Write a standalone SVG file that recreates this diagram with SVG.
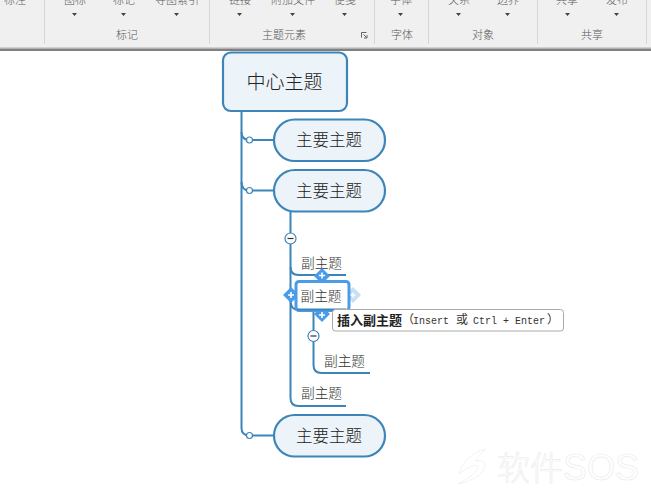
<svg xmlns="http://www.w3.org/2000/svg" width="651" height="493" viewBox="0 0 651 493">
<defs>
<style>
text{font-family:"Noto Sans CJK SC","Liberation Sans",sans-serif;text-anchor:middle;font-weight:300}
.rib{font-size:11px;fill:#5a5a5a}
.sep{stroke:#d6d6d6;stroke-width:1}
.ar{fill:#444}
.top{fill:#ecf3f9;stroke:#3d85b8;stroke-width:2.2}
.main{font-size:16.500px;fill:#222}
.sub{font-size:13.700px;fill:#333}
.ln{fill:none;stroke:#3d85b8;stroke-width:2}
.cir{fill:#fff;stroke:#3d85b8;stroke-width:1.200}
.dia{fill:#4a9be8}
.plus{stroke:#fff;stroke-width:1.600}
.wm{fill:#fff;stroke:#ededed;stroke-width:.7}
</style>
</defs>
<rect width="651" height="493" fill="#fff"/>
<g id="ribbon">
<rect width="651" height="47" fill="#f0f0f0"/>
<rect y="47" width="651" height="1.500" fill="#d0d0d0"/>
<rect y="48.500" width="651" height="2.500" fill="#808080"/>
<g class="sep"><path d="M44.500 0V44M209.500 0V44M374.500 0V44M428.500 0V44M537.500 0V44M646.500 0V44"/></g>
<g class="rib">
<text x="15" y="4">标注</text><text x="75" y="4">图标</text><text x="124" y="4">标记</text><text x="177" y="4">导图索引</text>
<text x="240" y="4">链接</text><text x="293" y="4">附加文件</text><text x="345" y="4">便笺</text><text x="401" y="4">字体</text>
<text x="459" y="4">关系</text><text x="508" y="4">边界</text><text x="567" y="4">共享</text><text x="617" y="4">发布</text>
<text x="127" y="39">标记</text><text x="284" y="39">主题元素</text><text x="402" y="39">字体</text><text x="483" y="39">对象</text><text x="592" y="39">共享</text>
</g>
<g class="ar">
<path d="M72 13h5l-2.500 3zM121 13h5l-2.500 3zM174 13h5l-2.500 3zM237 13h5l-2.500 3zM290 13h5l-2.500 3zM342 13h5l-2.500 3zM398 13h5l-2.500 3zM456 13h5l-2.500 3zM505 13h5l-2.500 3zM565 13h5l-2.500 3zM614 13h5l-2.500 3z"/>
</g>
<path d="M361.500 32.500h5M361.500 32.500v5M363.500 34.500l3 3M367 35v3h-3" fill="none" stroke="#666" stroke-width="1"/>
</g>
<g id="connectors">
<path class="ln" d="M241.500 111V428Q241.500 435.500 249.500 435.500H274"/>
<path class="ln" d="M241.500 132Q241.500 140 249.500 140H274"/>
<path class="ln" d="M241.500 182Q241.500 190.500 249.500 190.500H274"/>
<path class="ln" d="M290.500 211V398Q290.500 406 298.500 406H346"/>
<path class="ln" d="M290.500 267Q290.500 275 298.500 275H346"/>
<path class="ln" d="M290.500 300Q290.500 310 298.500 310H346"/>
<path class="ln" d="M313.500 310V365Q313.500 373 321.500 373H370"/>
<circle class="cir" cx="249.500" cy="140" r="3"/>
<circle class="cir" cx="249.500" cy="190.500" r="3"/>
<circle class="cir" cx="249.500" cy="435.500" r="3"/>
<g><circle class="cir" cx="290.500" cy="238.500" r="5.500"/><path d="M287.500 238.500h6" stroke="#333" stroke-width="1.200"/></g>
<g><circle class="cir" cx="313.500" cy="336" r="5.500"/><path d="M310.500 336h6" stroke="#333" stroke-width="1.200"/></g>
</g>
<g id="central"><rect class="top" x="223" y="52.500" width="124" height="58.500" rx="8"/><text x="284.500" y="88.500" font-size="19" fill="#222">中心主题</text></g>
<g id="main1"><rect class="top" x="274" y="119.500" width="111" height="41.500" rx="20.700"/><text class="main" x="329" y="146">主要主题</text></g>
<g id="main2"><rect class="top" x="274" y="170" width="111" height="41.500" rx="20.700"/><text class="main" x="329" y="196.500">主要主题</text></g>
<g id="main3"><rect class="top" x="274" y="415" width="111" height="41.500" rx="20.700"/><text class="main" x="329" y="441.500">主要主题</text></g>
<g id="sub1"><text class="sub" x="321.500" y="268">副主题</text></g>
<g id="sub2">
<path d="M291 287l8 8-8 8-8-8z" class="dia"/>
<path d="M353 287l8 8-8 8-8-8z" fill="#c5e0f7"/>
<path d="M322 268l8 8-8 8-8-8z" class="dia"/>
<path d="M322 306l8 8-8 8-8-8z" class="dia"/>
<rect x="296" y="281.500" width="53" height="29" rx="3" fill="#fff" stroke="#4a9be8" stroke-width="3"/>
<path d="M297 309.500H346" stroke="#3d85b8" stroke-width="2"/>
<path class="plus" d="M319 275.500h6M322 272.500v6M319 315h6M322 312v6M288 295h6M291 292v6"/>
<path d="M350.500 295h5M353 292.500v5" stroke="#fff" stroke-width="1.500"/>
<text class="sub" x="321" y="301">副主题</text>
</g>
<g id="sub3"><text class="sub" x="344.500" y="366">副主题</text></g>
<g id="sub4"><text class="sub" x="321.500" y="398">副主题</text></g>
<g id="tooltip">
<rect x="332.500" y="309.500" width="231" height="21.500" rx="3" fill="#fff" stroke="#aaa"/>
<text x="337" y="324.500" style="text-anchor:start;font-weight:700;font-family:'Liberation Serif','Noto Sans CJK SC',serif" font-size="13" fill="#222">插入副主题</text>
<text x="402" y="324" style="text-anchor:start;font-weight:400;font-family:'Liberation Mono','Noto Sans CJK SC',monospace" font-size="10" fill="#333"><tspan x="402" font-size="12">（</tspan><tspan x="413">Insert</tspan><tspan x="456" font-size="12">或</tspan><tspan x="473">Ctrl</tspan><tspan x="503">+</tspan><tspan x="515">Enter</tspan><tspan x="547" font-size="12">）</tspan></text>
</g>
<g id="watermark">
<path class="wm" d="M459 474C462 462 473 452 486 449C479 455 477 458 476 461C483 459 487 463 484 469C480 477 468 482 458 484C466 479 476 474 478 468C479 465 474 465 470 467C465 470 461 472 459 474Z"/>
<text class="wm" x="497" y="480" style="text-anchor:start" font-size="33">软件</text>
<text class="wm" x="563" y="480" style="text-anchor:start;font-family:'Liberation Sans',sans-serif" font-size="36">SOS</text>
</g>
</svg>
